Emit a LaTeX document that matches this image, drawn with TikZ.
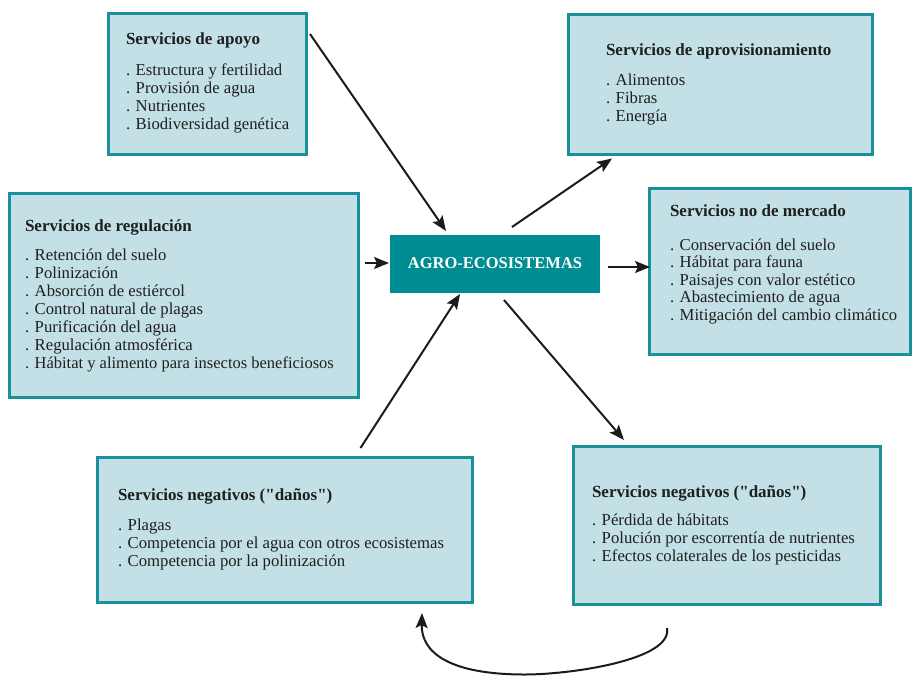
\documentclass[tikz,border=0pt]{standalone}
\usepackage{fontspec}
\setmainfont[Ligatures=TeXOff]{Liberation Serif}
\usetikzlibrary{arrows.meta,calc}
\definecolor{boxfill}{HTML}{C2E0E5}
\definecolor{boxline}{HTML}{1A9199}
\definecolor{centerfill}{HTML}{008C93}
\definecolor{arrowcol}{HTML}{1E1A1A}
\tikzset{
  svcbox/.style={draw=boxline, fill=boxfill, line width=3pt, inner sep=0pt, outer sep=0pt},
  centerbox/.style={fill=centerfill, draw=none, inner sep=0pt, outer sep=0pt,
    text=white, font=\fontsize{16.5}{18}\selectfont\bfseries},
  txt/.style={anchor=base west, inner sep=0pt, outer sep=0pt, text=black!88,
    font=\fontsize{16.7}{18}\selectfont},
  ttl/.style={txt, font=\fontsize{17}{18}\selectfont\bfseries},
  arr/.style={draw=arrowcol, line width=2pt, -{Stealth[length=15pt,width=12pt,inset=3pt]}}
}
\begin{document}
\begin{tikzpicture}[x=1pt,y=-1pt]
\useasboundingbox (0,0) rectangle (912,675);
% boxes
\node[svcbox, minimum width=198pt, minimum height=141pt] (apoyo) at (207,83.5) {};
\node[svcbox, minimum width=304pt, minimum height=140pt] (aprov) at (720,84.5) {};
\node[svcbox, minimum width=349pt, minimum height=204pt] (regul) at (183.5,295) {};
\node[svcbox, minimum width=261pt, minimum height=166pt] (merc) at (779.5,271) {};
\node[svcbox, minimum width=375pt, minimum height=145pt] (negL) at (284.5,529.5) {};
\node[svcbox, minimum width=307pt, minimum height=158pt] (negR) at (726.5,525) {};
\node[centerbox, minimum width=210pt, minimum height=58pt] (agro) at (495,264) {};
\node[centerbox, anchor=base] (agrot) at (495,268) {AGRO-ECOSISTEMAS};
% texts: apoyo
\node[ttl] (ap0) at (126,44) {Servicios de apoyo};
\foreach \t [count=\i] in {Estructura y fertilidad, Provisión de agua, Nutrientes, Biodiversidad genética}
  \node[txt] (ap\i) at (126,{57+18*\i}) {. \t};
% aprovisionamiento
\node[ttl] (av0) at (606,55.5) {Servicios de aprovisionamiento};
\foreach \t [count=\i] in {Alimentos, Fibras, Energía}
  \node[txt] (av\i) at (606,{68+17.7*\i}) {. \t};
% regulacion
\node[ttl] (rg0) at (25,231) {Servicios de regulación};
\foreach \t [count=\i] in {Retención del suelo, Polinización, Absorción de estiércol, Control natural de plagas, Purificación del agua, Regulación atmosférica}
  \node[txt] (rg\i) at (25,{242+18*\i}) {. \t};
\node[txt, font=\fontsize{16.5}{18}\selectfont] (rg7) at (25,368) {. Hábitat y alimento para insectos beneficiosos};
% no de mercado
\node[ttl] (mc0) at (670,216) {Servicios no de mercado};
\foreach \t [count=\i] in {Conservación del suelo, Hábitat para fauna, Paisajes con valor estético, Abastecimiento de agua, Mitigación del cambio climático}
  \node[txt] (mc\i) at (670,{232.5+17.6*\i}) {. \t};
% negativos izquierda
\node[ttl] (nl0) at (118,500) {Servicios negativos ("daños")};
\foreach \t [count=\i] in {Plagas, Competencia por el agua con otros ecosistemas, Competencia por la polinización}
  \node[txt] (nl\i) at (118,{512+18*\i}) {. \t};
% negativos derecha
\node[ttl] (nr0) at (592,497) {Servicios negativos ("daños")};
\foreach \t [count=\i] in {Pérdida de hábitats, Polución por escorrentía de nutrientes, Efectos colaterales de los pesticidas}
  \node[txt] (nr\i) at (592,{507+18*\i}) {. \t};
% arrows
\draw[arr] ($(apoyo.north east)+(4,21)$) -- ($(agro.north west)+(56,-4)$);
\draw[arr] ($(agro.north west)+(122,-8)$) -- ($(aprov.south west)+(44,4)$);
\draw[arr] ($(regul.east)+(7,-32)$) -- ($(agro.west)+(-1,-1)$);
\draw[arr] ($(agro.east)+(8,3)$) -- ($(merc.west)+(1,-4)$);
\draw[arr] ($(agro.south west)+(114,7)$) -- ($(negR.north west)+(51,-6)$);
\draw[arr] ($(negL.north)+(76,-9)$) -- ($(agro.south west)+(70,1)$);
\draw[arr] ($(negR.south west)+(94,24)$) .. controls +(6,32) and +(45,0) .. (525,674.5)
  .. controls +(-75,0) and +(-1,40) .. ($(negL.south west)+(325,11)$);
\end{tikzpicture}
\end{document}
